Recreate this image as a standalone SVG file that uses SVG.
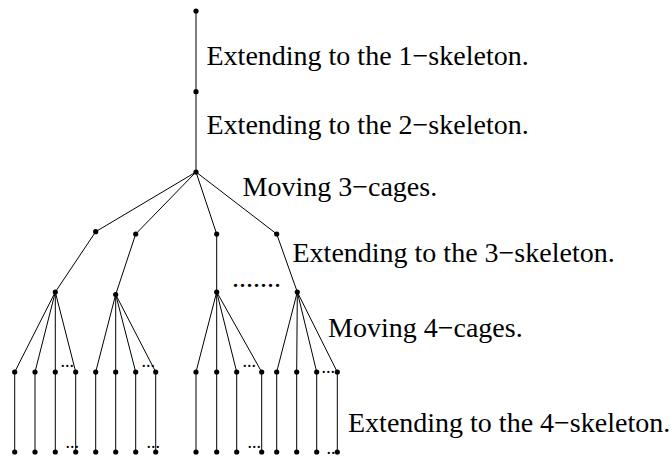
<svg xmlns="http://www.w3.org/2000/svg" width="672" height="457" viewBox="0 0 672 457">
<style>
.e{stroke:#000;stroke-width:1;fill:none}
.n{fill:#000}
.t{font-family:"Liberation Serif","Times New Roman",serif;font-size:28px;fill:#000}
.d{font-family:"Liberation Serif","Times New Roman",serif;font-size:18px;fill:#000}
</style>
<rect width="672" height="457" fill="#fff"/>
<g id="connectors" class="e">
<path d="M196,11V172"/>
<path d="M196,172L95.7,231.7M196,172L135.7,234M196,172L216.7,234M196,172L276.7,234"/>
<path d="M95.7,231.7L55.3,292M135.7,234L115.7,294.5M216.7,234V292M276.7,234L297.3,292"/>
<path d="M55.3,292L14.7,372M55.3,292L35,372M55.3,292L55.3,372M55.3,292L75.7,372"/>
<path d="M115.7,294.5L95.7,372M115.7,294.5L115.7,372M115.7,294.5L135.7,372M115.7,294.5L155.7,372"/>
<path d="M216.7,292L196,372M216.7,292L216.7,372M216.7,292L236.7,372M216.7,292L261.7,372"/>
<path d="M297.3,292L276.7,372M297.3,292L296.7,372M297.3,292L316.7,372M297.3,292L337.3,372"/>
<path d="M14.7,372V452M35,372V452M55.3,372V452M75.7,372V452M95.7,372V452M115.7,372V452M135.7,372V452M155.7,372V452M196,372V452M216.7,372V452M236.7,372V452M261.7,372V452M276.7,372V452M296.7,372V452M316.7,372V452M337.3,372V452"/>
</g>
<g id="n0"><circle class="n" cx="196" cy="11" r="2.6"/></g>
<g id="n1"><circle class="n" cx="196" cy="91.7" r="2.6"/></g>
<g id="n2"><circle class="n" cx="196" cy="172" r="2.6"/></g>
<g id="l2">
<circle class="n" cx="95.7" cy="231.7" r="2.6"/>
<circle class="n" cx="135.7" cy="234" r="2.6"/>
<circle class="n" cx="216.7" cy="234" r="2.6"/>
<circle class="n" cx="276.7" cy="234" r="2.6"/>
</g>
<g id="l3">
<circle class="n" cx="55.3" cy="292" r="2.6"/>
<circle class="n" cx="115.7" cy="294.5" r="2.6"/>
<circle class="n" cx="216.7" cy="292" r="2.6"/>
<circle class="n" cx="297.3" cy="292" r="2.6"/>
</g>
<g id="leaves-top">
<circle class="n" cx="14.7" cy="372" r="2.6"/><circle class="n" cx="35" cy="372" r="2.6"/><circle class="n" cx="55.3" cy="372" r="2.6"/><circle class="n" cx="75.7" cy="372" r="2.6"/>
<circle class="n" cx="95.7" cy="372" r="2.6"/><circle class="n" cx="115.7" cy="372" r="2.6"/><circle class="n" cx="135.7" cy="372" r="2.6"/><circle class="n" cx="155.7" cy="372" r="2.6"/>
<circle class="n" cx="196" cy="372" r="2.6"/><circle class="n" cx="216.7" cy="372" r="2.6"/><circle class="n" cx="236.7" cy="372" r="2.6"/><circle class="n" cx="261.7" cy="372" r="2.6"/>
<circle class="n" cx="276.7" cy="372" r="2.6"/><circle class="n" cx="296.7" cy="372" r="2.6"/><circle class="n" cx="316.7" cy="372" r="2.6"/><circle class="n" cx="337.3" cy="372" r="2.6"/>
</g>
<g id="leaves-bottom">
<circle class="n" cx="14.7" cy="452" r="2.6"/><circle class="n" cx="35" cy="452" r="2.6"/><circle class="n" cx="55.3" cy="452" r="2.6"/><circle class="n" cx="75.7" cy="452" r="2.6"/>
<circle class="n" cx="95.7" cy="452" r="2.6"/><circle class="n" cx="115.7" cy="452" r="2.6"/><circle class="n" cx="135.7" cy="452" r="2.6"/><circle class="n" cx="155.7" cy="452" r="2.6"/>
<circle class="n" cx="196" cy="452" r="2.6"/><circle class="n" cx="216.7" cy="452" r="2.6"/><circle class="n" cx="236.7" cy="452" r="2.6"/><circle class="n" cx="261.7" cy="452" r="2.6"/>
<circle class="n" cx="276.7" cy="452" r="2.6"/><circle class="n" cx="296.7" cy="452" r="2.6"/><circle class="n" cx="316.7" cy="452" r="2.6"/><circle class="n" cx="337.3" cy="452" r="2.6"/>
</g>
<g id="dots">
<text class="t" x="232" y="287">.......</text>
<text class="d" x="60.5" y="367">...</text>
<text class="d" x="65.5" y="448">...</text>
<text class="d" x="141.5" y="367">...</text>
<text class="d" x="146.5" y="448">...</text>
<text class="d" x="242.5" y="367">...</text>
<text class="d" x="247.5" y="448">...</text>
<text class="d" x="321.5" y="372.5">...</text>
<text class="d" x="326.5" y="453.5">...</text>
</g>
<g id="labels">
<text class="t" x="206.5" y="65">Extending to the 1−skeleton.</text>
<text class="t" x="206.5" y="134">Extending to the 2−skeleton.</text>
<text class="t" x="242.5" y="196">Moving 3−cages.</text>
<text class="t" x="292.5" y="261.7">Extending to the 3−skeleton.</text>
<text class="t" x="328" y="336.7">Moving 4−cages.</text>
<text class="t" x="348" y="431.5">Extending to the 4−skeleton.</text>
</g>
</svg>
